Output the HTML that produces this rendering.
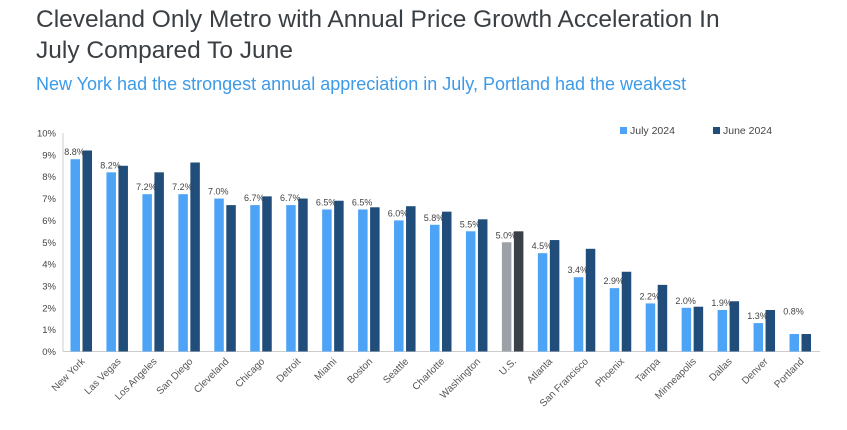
<!DOCTYPE html>
<html><head><meta charset="utf-8"><style>
body{margin:0;width:847px;height:430px;background:#fff;font-family:"Liberation Sans",sans-serif;overflow:hidden}
h1{position:absolute;left:36px;top:4px;margin:0;font-weight:normal;font-size:24.5px;line-height:31px;color:#3a3f44}
h2{position:absolute;left:36px;top:74px;margin:0;font-weight:normal;font-size:18px;color:#3d9ae8}
svg{position:absolute;left:0;top:0}
</style></head><body>
<h1>Cleveland Only Metro with Annual Price Growth Acceleration In<br>July Compared To June</h1>
<h2>New York had the strongest annual appreciation in July, Portland had the weakest</h2>
<svg id="c" width="847" height="430"></svg>
<script>
const categories=["New York","Las Vegas","Los Angeles","San Diego","Cleveland","Chicago","Detroit","Miami","Boston","Seattle","Charlotte","Washington","U.S.","Atlanta","San Francisco","Phoenix","Tampa","Minneapolis","Dallas","Denver","Portland"];
const july=[8.8,8.2,7.2,7.2,7.0,6.7,6.7,6.5,6.5,6.0,5.8,5.5,5.0,4.5,3.4,2.9,2.2,2.0,1.9,1.3,0.8];
const june=[9.2,8.5,8.2,8.65,6.7,7.1,7.0,6.9,6.6,6.65,6.4,6.05,5.5,5.1,4.7,3.65,3.05,2.05,2.3,1.9,0.8];
const yTicks=[0,1,2,3,4,5,6,7,8,9,10];
const svg=document.getElementById('c'),NS="http://www.w3.org/2000/svg";
const y0=351.5,yTop=133,x0=63,step=35.95;
const y=v=>y0-(v/10)*(y0-yTop);
const xc=i=>81.5+i*step;
function mk(t,a,p){const e=document.createElementNS(NS,t);for(const k in a)e.setAttribute(k,a[k]);(p||svg).appendChild(e);return e;}
const ax=mk('line',{x1:x0,x2:x0,y1:yTop,y2:y0,stroke:'#ccc'});


const bx=mk('line',{x1:x0,x2:820,y1:y0,y2:y0,stroke:'#ccc'});


yTicks.forEach(t=>{const e=mk('text',{x:56,y:y(t)+3.5,'text-anchor':'end','font-size':9.5,fill:'#444'});e.textContent=t+'%';

});
categories.forEach((c,i)=>{
 const us=c==="U.S.";
 const a=mk('rect',{x:xc(i)-11,y:y(july[i]),width:9.5,height:y0-y(july[i]),fill:us?'#9ca1a8':'#4da3f5'});
 
 
 const b=mk('rect',{x:xc(i)+1,y:y(june[i]),width:9.5,height:y0-y(june[i]),fill:us?'#3a4048':'#214d7b'});
 
 
 const l=mk('text',{x:xc(i)-7,y:y(Math.max(july[i],i==20?1.5:0))-4,'text-anchor':'middle','font-size':9,fill:'#444'});l.textContent=july[i].toFixed(1)+'%';
 
 
 const t=mk('text',{x:xc(i)+4,y:362,'text-anchor':'end','font-size':10,fill:'#555',transform:`rotate(-45 ${xc(i)+4} 362)`});t.textContent=c;
 
 
});
const lg=[["July 2024",'#4da3f5',620],["June 2024",'#214d7b',713]];
lg.forEach(([n,c,x])=>{const r=mk('rect',{x:x,y:127,width:7,height:7,fill:c});


const t=mk('text',{x:x+10,y:134,'font-size':10.5,fill:'#444'});t.textContent=n;

});
</script>
</body></html>
